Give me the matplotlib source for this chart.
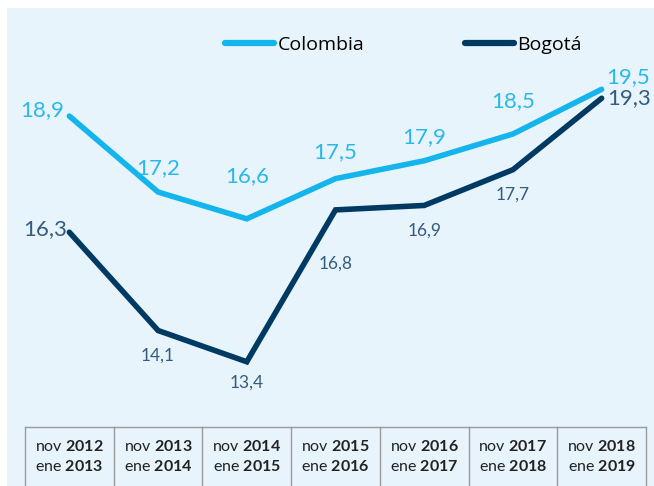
import matplotlib
matplotlib.use("Agg")
import matplotlib.pyplot as plt
from matplotlib.patches import Rectangle
from matplotlib.lines import Line2D

# ---- data ----
periods_nov = ["2012", "2013", "2014", "2015", "2016", "2017", "2018"]
periods_ene = ["2013", "2014", "2015", "2016", "2017", "2018", "2019"]
colombia = [18.9, 17.2, 16.6, 17.5, 17.9, 18.5, 19.5]
bogota = [16.3, 14.1, 13.4, 16.8, 16.9, 17.7, 19.3]
series_names = ["Colombia", "Bogotá"]

# ---- styles ----
c_col = "#14B4EC"
c_bog = "#003A63"
c_col_lbl = "#2AB8EC"
c_bog_lbl = "#335C80"
bg = "#E8F4FC"

plt.rcParams['font.family'] = ['Lato', 'DejaVu Sans']
plt.rcParams['mathtext.fontset'] = 'custom'
plt.rcParams['mathtext.rm'] = 'Lato'
plt.rcParams['mathtext.bf'] = 'Lato:bold'

W, H = 654, 486
fig = plt.figure(figsize=(W / 100, H / 100), dpi=100, facecolor="white")
bgrect = Rectangle((7 / W, 0), 1 - 7 / W, 1 - 8 / H,
                   transform=fig.transFigure, facecolor=bg,
                   edgecolor="none", zorder=-10)
fig.patches.append(bgrect)

left = 25 / W
width = 621 / W
ax_bottom = (H - 427) / H
ax = fig.add_axes([left, ax_bottom, width, 1 - 8 / H - ax_bottom])
ax.set_zorder(2)
ax.set_facecolor("none")
ax.set_xlim(-0.5, 6.5)
ax.set_ylim(11.94, 21.32)
for s in ax.spines.values():
    s.set_visible(False)
ax.set_xticks([])
ax.set_yticks([])

x = list(range(len(colombia)))
ax.plot(x, colombia, color=c_col, lw=4.0, solid_capstyle="round",
        solid_joinstyle="miter", zorder=3)
ax.plot(x, bogota, color=c_bog, lw=4.0, solid_capstyle="round",
        solid_joinstyle="miter", zorder=3)

def fmt(v):
    return f"{v:.1f}".replace(".", ",")

# (dx, dy, ha)
col_off = [(-4, 4, "right"), (0, 17, "center"), (0, 31, "center"),
           (0, 19, "center"), (0, 17, "center"), (0, 24, "center"),
           (3, 9, "left")]
for i, v in enumerate(colombia):
    dx, dy, ha = col_off[i]
    ax.annotate(fmt(v), (i, v), xytext=(dx, dy), textcoords="offset points",
                ha=ha, va="center", color=c_col_lbl, fontsize=16)

bog_off = [(-2, 2, "right", 16), (0, -18, "center", 12.5),
           (0, -15, "center", 12.5), (0, -39, "center", 12.5),
           (0, -18, "center", 12.5), (0, -18, "center", 12.5),
           (4, 0, "left", 16)]
for i, v in enumerate(bogota):
    dx, dy, ha, fs = bog_off[i]
    ax.annotate(fmt(v), (i, v), xytext=(dx, dy), textcoords="offset points",
                ha=ha, va="center", color=c_bog_lbl, fontsize=fs)

# legend (one entry each, placed individually)
leg_colors = [c_col, c_bog]
leg_x = [225 / W, 465 / W]
for name, col, lx in zip(series_names, leg_colors, leg_x):
    h = Line2D([], [], color=col, lw=4.5, solid_capstyle="round")
    lg = fig.legend([h], [name], loc="center left",
                    bbox_to_anchor=(lx, 1 - 45 / H), frameon=False,
                    prop={"family": ["Open Sans", "DejaVu Sans"], "size": 14},
                    handlelength=2.5, handletextpad=0.2, borderpad=0,
                    borderaxespad=0)

# table
tax = fig.add_axes([left, 0, width, ax_bottom])
tax.set_zorder(1)
tax.set_facecolor("none")
tax.set_xlim(-0.5, 6.5)
tax.set_ylim(0, 59)
tax.axis("off")
grid_c = "#9A9A9A"
tax.plot([-0.5, 6.5], [59, 59], color=grid_c, lw=1.0, clip_on=False)
for i in range(len(periods_nov) + 1):
    tax.plot([i - 0.5, i - 0.5], [0, 59], color=grid_c, lw=1.0, clip_on=False)
for i, (a, b) in enumerate(zip(periods_nov, periods_ene)):
    tax.text(i, 40, "nov $\\mathbf{" + a + "}$", ha="center", va="center",
             fontsize=11.5, color="#222222")
    tax.text(i, 20, "ene $\\mathbf{" + b + "}$", ha="center", va="center",
             fontsize=11.5, color="#222222")

fig.savefig("out.png", dpi=100, facecolor="white")
